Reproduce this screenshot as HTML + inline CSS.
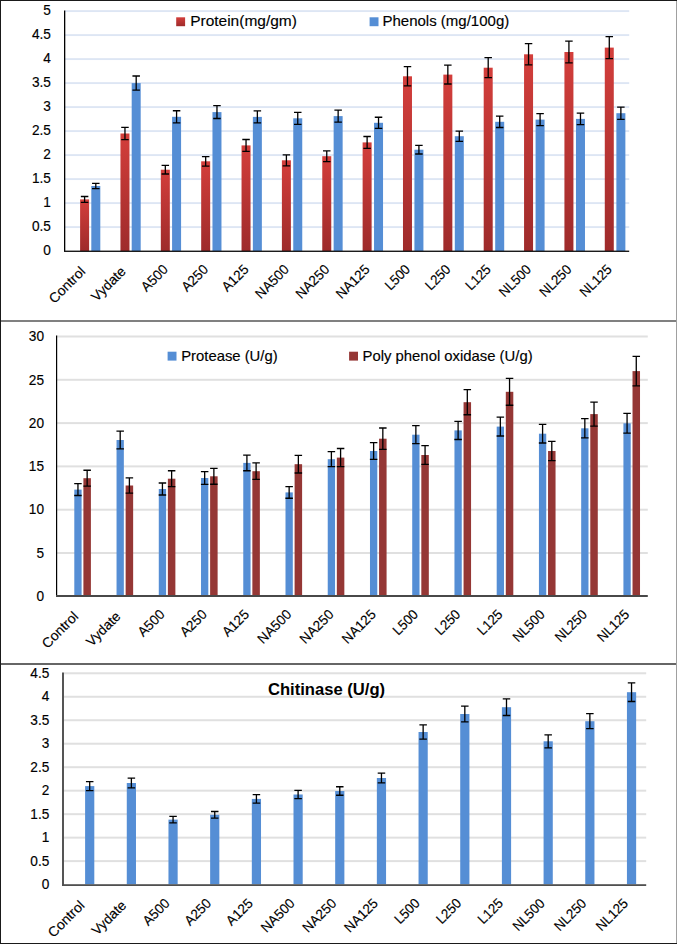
<!DOCTYPE html>
<html><head><meta charset="utf-8"><title>Chart</title>
<style>
html,body{margin:0;padding:0;background:#fff;}
body{width:677px;height:944px;overflow:hidden;position:relative;}
svg{position:absolute;left:0;top:0;display:block;}
svg text{font-family:"Liberation Sans",sans-serif;font-size:13.8px;fill:#000;stroke:#000;stroke-width:0.15px;}
</style></head>
<body>
<svg width="677" height="944" viewBox="0 0 677 944">
<defs>
<linearGradient id="rg" x1="0" y1="0" x2="0" y2="1">
<stop offset="0" stop-color="#d33e3b"/>
<stop offset="1" stop-color="#9e2b2b"/>
</linearGradient>
</defs>
<rect x="0" y="0" width="677" height="944" fill="#fff"/>
<g id="c1">
<rect x="65" y="226.15" width="564.2" height="1.9" fill="#dde6f4"/>
<rect x="65" y="202.15" width="564.2" height="1.9" fill="#dde6f4"/>
<rect x="65" y="178.15" width="564.2" height="1.9" fill="#dde6f4"/>
<rect x="65" y="154.15" width="564.2" height="1.9" fill="#dde6f4"/>
<rect x="65" y="130.15" width="564.2" height="1.9" fill="#dde6f4"/>
<rect x="65" y="106.15" width="564.2" height="1.9" fill="#dde6f4"/>
<rect x="65" y="82.15" width="564.2" height="1.9" fill="#dde6f4"/>
<rect x="65" y="58.15" width="564.2" height="1.9" fill="#dde6f4"/>
<rect x="65" y="34.15" width="564.2" height="1.9" fill="#dde6f4"/>
<rect x="65" y="10.15" width="564.2" height="1.9" fill="#dde6f4"/>
<rect x="80.1" y="199.4" width="9" height="51.6" fill="url(#rg)"/>
<rect x="91.3" y="186" width="9" height="65" fill="#558ed5"/>
<rect x="120.46" y="133.5" width="9" height="117.5" fill="url(#rg)"/>
<rect x="131.69" y="83.1" width="9" height="167.9" fill="#558ed5"/>
<rect x="160.82" y="169.7" width="9" height="81.3" fill="url(#rg)"/>
<rect x="172.08" y="116.8" width="9" height="134.2" fill="#558ed5"/>
<rect x="201.18" y="161.3" width="9" height="89.7" fill="url(#rg)"/>
<rect x="212.47" y="112.1" width="9" height="138.9" fill="#558ed5"/>
<rect x="241.54" y="145.4" width="9" height="105.6" fill="url(#rg)"/>
<rect x="252.86" y="116.9" width="9" height="134.1" fill="#558ed5"/>
<rect x="281.9" y="160.3" width="9" height="90.7" fill="url(#rg)"/>
<rect x="293.25" y="118.3" width="9" height="132.7" fill="#558ed5"/>
<rect x="322.26" y="156.2" width="9" height="94.8" fill="url(#rg)"/>
<rect x="333.64" y="116.1" width="9" height="134.9" fill="#558ed5"/>
<rect x="362.62" y="142.4" width="9" height="108.6" fill="url(#rg)"/>
<rect x="374.03" y="122.8" width="9" height="128.2" fill="#558ed5"/>
<rect x="402.98" y="76.3" width="9" height="174.7" fill="url(#rg)"/>
<rect x="414.42" y="149.7" width="9" height="101.3" fill="#558ed5"/>
<rect x="443.34" y="74.6" width="9" height="176.4" fill="url(#rg)"/>
<rect x="454.81" y="136.2" width="9" height="114.8" fill="#558ed5"/>
<rect x="483.7" y="67.7" width="9" height="183.3" fill="url(#rg)"/>
<rect x="495.2" y="121.8" width="9" height="129.2" fill="#558ed5"/>
<rect x="524.06" y="54.3" width="9" height="196.7" fill="url(#rg)"/>
<rect x="535.59" y="119.6" width="9" height="131.4" fill="#558ed5"/>
<rect x="564.42" y="52" width="9" height="199" fill="url(#rg)"/>
<rect x="575.98" y="118.9" width="9" height="132.1" fill="#558ed5"/>
<rect x="604.78" y="47.6" width="9" height="203.4" fill="url(#rg)"/>
<rect x="616.37" y="113.2" width="9" height="137.8" fill="#558ed5"/>
<path d="M84.6 196.5V202.3M80.85 196.5H88.35M80.85 202.3H88.35" stroke="#000" stroke-width="1.3" fill="none"/>
<path d="M95.8 183.45V188.55M92.05 183.45H99.55M92.05 188.55H99.55" stroke="#000" stroke-width="1.3" fill="none"/>
<path d="M124.96 127.3V139.7M121.21 127.3H128.71M121.21 139.7H128.71" stroke="#000" stroke-width="1.3" fill="none"/>
<path d="M136.19 76V90.2M132.44 76H139.94M132.44 90.2H139.94" stroke="#000" stroke-width="1.3" fill="none"/>
<path d="M165.32 165.4V174M161.57 165.4H169.07M161.57 174H169.07" stroke="#000" stroke-width="1.3" fill="none"/>
<path d="M176.58 110.75V122.85M172.83 110.75H180.33M172.83 122.85H180.33" stroke="#000" stroke-width="1.3" fill="none"/>
<path d="M205.68 156.55V166.05M201.93 156.55H209.43M201.93 166.05H209.43" stroke="#000" stroke-width="1.3" fill="none"/>
<path d="M216.97 105.7V118.5M213.22 105.7H220.72M213.22 118.5H220.72" stroke="#000" stroke-width="1.3" fill="none"/>
<path d="M246.04 139.5V151.3M242.29 139.5H249.79M242.29 151.3H249.79" stroke="#000" stroke-width="1.3" fill="none"/>
<path d="M257.36 110.9V122.9M253.61 110.9H261.11M253.61 122.9H261.11" stroke="#000" stroke-width="1.3" fill="none"/>
<path d="M286.4 154.8V165.8M282.65 154.8H290.15M282.65 165.8H290.15" stroke="#000" stroke-width="1.3" fill="none"/>
<path d="M297.75 112.3V124.3M294 112.3H301.5M294 124.3H301.5" stroke="#000" stroke-width="1.3" fill="none"/>
<path d="M326.76 150.85V161.55M323.01 150.85H330.51M323.01 161.55H330.51" stroke="#000" stroke-width="1.3" fill="none"/>
<path d="M338.14 110.05V122.15M334.39 110.05H341.89M334.39 122.15H341.89" stroke="#000" stroke-width="1.3" fill="none"/>
<path d="M367.12 136.5V148.3M363.37 136.5H370.87M363.37 148.3H370.87" stroke="#000" stroke-width="1.3" fill="none"/>
<path d="M378.53 117.25V128.35M374.78 117.25H382.28M374.78 128.35H382.28" stroke="#000" stroke-width="1.3" fill="none"/>
<path d="M407.48 66.7V85.9M403.73 66.7H411.23M403.73 85.9H411.23" stroke="#000" stroke-width="1.3" fill="none"/>
<path d="M418.92 145.4V154M415.17 145.4H422.67M415.17 154H422.67" stroke="#000" stroke-width="1.3" fill="none"/>
<path d="M447.84 65.2V84M444.09 65.2H451.59M444.09 84H451.59" stroke="#000" stroke-width="1.3" fill="none"/>
<path d="M459.31 131.05V141.35M455.56 131.05H463.06M455.56 141.35H463.06" stroke="#000" stroke-width="1.3" fill="none"/>
<path d="M488.2 57.7V77.7M484.45 57.7H491.95M484.45 77.7H491.95" stroke="#000" stroke-width="1.3" fill="none"/>
<path d="M499.7 116.1V127.5M495.95 116.1H503.45M495.95 127.5H503.45" stroke="#000" stroke-width="1.3" fill="none"/>
<path d="M528.56 43.7V64.9M524.81 43.7H532.31M524.81 64.9H532.31" stroke="#000" stroke-width="1.3" fill="none"/>
<path d="M540.09 113.65V125.55M536.34 113.65H543.84M536.34 125.55H543.84" stroke="#000" stroke-width="1.3" fill="none"/>
<path d="M568.92 41.2V62.8M565.17 41.2H572.67M565.17 62.8H572.67" stroke="#000" stroke-width="1.3" fill="none"/>
<path d="M580.48 113.1V124.7M576.73 113.1H584.23M576.73 124.7H584.23" stroke="#000" stroke-width="1.3" fill="none"/>
<path d="M609.28 36.6V58.6M605.53 36.6H613.03M605.53 58.6H613.03" stroke="#000" stroke-width="1.3" fill="none"/>
<path d="M620.87 107.1V119.3M617.12 107.1H624.62M617.12 119.3H624.62" stroke="#000" stroke-width="1.3" fill="none"/>
<rect x="64" y="10.5" width="1.3" height="241" fill="#000"/>
<rect x="64" y="250.6" width="565.2" height="1.35" fill="#111"/>
<rect x="176.2" y="17.3" width="8.9" height="8.9" fill="url(#rg)"/>
<text x="190.2" y="26.2" style="font-size:15.0px" textLength="106.66" lengthAdjust="spacingAndGlyphs">Protein(mg/gm)</text>
<rect x="369.6" y="17.3" width="8.9" height="8.9" fill="#558ed5"/>
<text x="382.5" y="26.2" style="font-size:15.0px" textLength="126.75" lengthAdjust="spacingAndGlyphs">Phenols (mg/100g)</text>
<text x="50.9" y="255.2" text-anchor="end" textLength="7.6" lengthAdjust="spacingAndGlyphs">0</text>
<text x="50.9" y="231.2" text-anchor="end" textLength="18.99" lengthAdjust="spacingAndGlyphs">0.5</text>
<text x="50.9" y="207.2" text-anchor="end" textLength="7.6" lengthAdjust="spacingAndGlyphs">1</text>
<text x="50.9" y="183.2" text-anchor="end" textLength="18.99" lengthAdjust="spacingAndGlyphs">1.5</text>
<text x="50.9" y="159.2" text-anchor="end" textLength="7.6" lengthAdjust="spacingAndGlyphs">2</text>
<text x="50.9" y="135.2" text-anchor="end" textLength="18.99" lengthAdjust="spacingAndGlyphs">2.5</text>
<text x="50.9" y="111.2" text-anchor="end" textLength="7.6" lengthAdjust="spacingAndGlyphs">3</text>
<text x="50.9" y="87.2" text-anchor="end" textLength="18.99" lengthAdjust="spacingAndGlyphs">3.5</text>
<text x="50.9" y="63.2" text-anchor="end" textLength="7.6" lengthAdjust="spacingAndGlyphs">4</text>
<text x="50.9" y="39.2" text-anchor="end" textLength="18.99" lengthAdjust="spacingAndGlyphs">4.5</text>
<text x="50.9" y="15.2" text-anchor="end" textLength="7.6" lengthAdjust="spacingAndGlyphs">5</text>
<text text-anchor="end" transform="translate(86.28 272.4) rotate(-45)" textLength="45.02" lengthAdjust="spacingAndGlyphs">Control</text>
<text text-anchor="end" transform="translate(126.64 272.4) rotate(-45)" textLength="42.12" lengthAdjust="spacingAndGlyphs">Vydate</text>
<text text-anchor="end" transform="translate(168.8 270.3) rotate(-45)" textLength="31.49" lengthAdjust="spacingAndGlyphs">A500</text>
<text text-anchor="end" transform="translate(209.16 270.3) rotate(-45)" textLength="31.49" lengthAdjust="spacingAndGlyphs">A250</text>
<text text-anchor="end" transform="translate(249.52 270.3) rotate(-45)" textLength="31.49" lengthAdjust="spacingAndGlyphs">A125</text>
<text text-anchor="end" transform="translate(289.88 270.3) rotate(-45)" textLength="41.17" lengthAdjust="spacingAndGlyphs">NA500</text>
<text text-anchor="end" transform="translate(330.24 270.3) rotate(-45)" textLength="41.17" lengthAdjust="spacingAndGlyphs">NA250</text>
<text text-anchor="end" transform="translate(370.6 270.3) rotate(-45)" textLength="41.17" lengthAdjust="spacingAndGlyphs">NA125</text>
<text text-anchor="end" transform="translate(410.96 270.3) rotate(-45)" textLength="29.12" lengthAdjust="spacingAndGlyphs">L500</text>
<text text-anchor="end" transform="translate(451.32 270.3) rotate(-45)" textLength="29.12" lengthAdjust="spacingAndGlyphs">L250</text>
<text text-anchor="end" transform="translate(491.68 270.3) rotate(-45)" textLength="29.12" lengthAdjust="spacingAndGlyphs">L125</text>
<text text-anchor="end" transform="translate(532.04 270.3) rotate(-45)" textLength="38.8" lengthAdjust="spacingAndGlyphs">NL500</text>
<text text-anchor="end" transform="translate(572.4 270.3) rotate(-45)" textLength="38.8" lengthAdjust="spacingAndGlyphs">NL250</text>
<text text-anchor="end" transform="translate(612.76 270.3) rotate(-45)" textLength="38.8" lengthAdjust="spacingAndGlyphs">NL125</text>
</g>
<g id="c2">
<rect x="57" y="552" width="590.8" height="2" fill="#e0e0e0"/>
<rect x="57" y="508.7" width="590.8" height="2" fill="#e0e0e0"/>
<rect x="57" y="465.4" width="590.8" height="2" fill="#e0e0e0"/>
<rect x="57" y="422.1" width="590.8" height="2" fill="#e0e0e0"/>
<rect x="57" y="378.8" width="590.8" height="2" fill="#e0e0e0"/>
<rect x="57" y="335.5" width="590.8" height="2" fill="#e0e0e0"/>
<rect x="74.3" y="489.6" width="7.3" height="106.4" fill="#558ed5"/>
<rect x="83.4" y="478.2" width="7.5" height="117.8" fill="#953735"/>
<rect x="116.54" y="440" width="7.3" height="156" fill="#558ed5"/>
<rect x="125.64" y="485.5" width="7.5" height="110.5" fill="#953735"/>
<rect x="158.78" y="489" width="7.3" height="107" fill="#558ed5"/>
<rect x="167.88" y="478.7" width="7.5" height="117.3" fill="#953735"/>
<rect x="201.02" y="478" width="7.3" height="118" fill="#558ed5"/>
<rect x="210.12" y="476.3" width="7.5" height="119.7" fill="#953735"/>
<rect x="243.26" y="462.9" width="7.3" height="133.1" fill="#558ed5"/>
<rect x="252.36" y="471.2" width="7.5" height="124.8" fill="#953735"/>
<rect x="285.5" y="492.4" width="7.3" height="103.6" fill="#558ed5"/>
<rect x="294.6" y="464.2" width="7.5" height="131.8" fill="#953735"/>
<rect x="327.74" y="459.2" width="7.3" height="136.8" fill="#558ed5"/>
<rect x="336.84" y="457.6" width="7.5" height="138.4" fill="#953735"/>
<rect x="369.98" y="451" width="7.3" height="145" fill="#558ed5"/>
<rect x="379.08" y="438.7" width="7.5" height="157.3" fill="#953735"/>
<rect x="412.22" y="434.7" width="7.3" height="161.3" fill="#558ed5"/>
<rect x="421.32" y="455" width="7.5" height="141" fill="#953735"/>
<rect x="454.46" y="430.4" width="7.3" height="165.6" fill="#558ed5"/>
<rect x="463.56" y="402.2" width="7.5" height="193.8" fill="#953735"/>
<rect x="496.7" y="426.6" width="7.3" height="169.4" fill="#558ed5"/>
<rect x="505.8" y="391.8" width="7.5" height="204.2" fill="#953735"/>
<rect x="538.94" y="433.7" width="7.3" height="162.3" fill="#558ed5"/>
<rect x="548.04" y="451" width="7.5" height="145" fill="#953735"/>
<rect x="581.18" y="428.3" width="7.3" height="167.7" fill="#558ed5"/>
<rect x="590.28" y="414.1" width="7.5" height="181.9" fill="#953735"/>
<rect x="623.42" y="423.3" width="7.3" height="172.7" fill="#558ed5"/>
<rect x="632.52" y="371.1" width="7.5" height="224.9" fill="#953735"/>
<path d="M77.95 483.7V495.5M74.2 483.7H81.7M74.2 495.5H81.7" stroke="#000" stroke-width="1.3" fill="none"/>
<path d="M87.15 470.25V486.15M83.4 470.25H90.9M83.4 486.15H90.9" stroke="#000" stroke-width="1.3" fill="none"/>
<path d="M120.19 431.2V448.8M116.44 431.2H123.94M116.44 448.8H123.94" stroke="#000" stroke-width="1.3" fill="none"/>
<path d="M129.39 477.95V493.05M125.64 477.95H133.14M125.64 493.05H133.14" stroke="#000" stroke-width="1.3" fill="none"/>
<path d="M162.43 483V495M158.68 483H166.18M158.68 495H166.18" stroke="#000" stroke-width="1.3" fill="none"/>
<path d="M171.63 470.75V486.65M167.88 470.75H175.38M167.88 486.65H175.38" stroke="#000" stroke-width="1.3" fill="none"/>
<path d="M204.67 471.55V484.45M200.92 471.55H208.42M200.92 484.45H208.42" stroke="#000" stroke-width="1.3" fill="none"/>
<path d="M213.87 468.35V484.25M210.12 468.35H217.62M210.12 484.25H217.62" stroke="#000" stroke-width="1.3" fill="none"/>
<path d="M246.91 455.05V470.75M243.16 455.05H250.66M243.16 470.75H250.66" stroke="#000" stroke-width="1.3" fill="none"/>
<path d="M256.11 462.95V479.45M252.36 462.95H259.86M252.36 479.45H259.86" stroke="#000" stroke-width="1.3" fill="none"/>
<path d="M289.15 486.55V498.25M285.4 486.55H292.9M285.4 498.25H292.9" stroke="#000" stroke-width="1.3" fill="none"/>
<path d="M298.35 455.4V473M294.6 455.4H302.1M294.6 473H302.1" stroke="#000" stroke-width="1.3" fill="none"/>
<path d="M331.39 451.7V466.7M327.64 451.7H335.14M327.64 466.7H335.14" stroke="#000" stroke-width="1.3" fill="none"/>
<path d="M340.59 448.5V466.7M336.84 448.5H344.34M336.84 466.7H344.34" stroke="#000" stroke-width="1.3" fill="none"/>
<path d="M373.63 442.6V459.4M369.88 442.6H377.38M369.88 459.4H377.38" stroke="#000" stroke-width="1.3" fill="none"/>
<path d="M382.83 428V449.4M379.08 428H386.58M379.08 449.4H386.58" stroke="#000" stroke-width="1.3" fill="none"/>
<path d="M415.87 425.7V443.7M412.12 425.7H419.62M412.12 443.7H419.62" stroke="#000" stroke-width="1.3" fill="none"/>
<path d="M425.07 445.6V464.4M421.32 445.6H428.82M421.32 464.4H428.82" stroke="#000" stroke-width="1.3" fill="none"/>
<path d="M458.11 421.3V439.5M454.36 421.3H461.86M454.36 439.5H461.86" stroke="#000" stroke-width="1.3" fill="none"/>
<path d="M467.31 389.65V414.75M463.56 389.65H471.06M463.56 414.75H471.06" stroke="#000" stroke-width="1.3" fill="none"/>
<path d="M500.35 417.2V436M496.6 417.2H504.1M496.6 436H504.1" stroke="#000" stroke-width="1.3" fill="none"/>
<path d="M509.55 378.35V405.25M505.8 378.35H513.3M505.8 405.25H513.3" stroke="#000" stroke-width="1.3" fill="none"/>
<path d="M542.59 424.4V443M538.84 424.4H546.34M538.84 443H546.34" stroke="#000" stroke-width="1.3" fill="none"/>
<path d="M551.79 441.45V460.55M548.04 441.45H555.54M548.04 460.55H555.54" stroke="#000" stroke-width="1.3" fill="none"/>
<path d="M584.83 418.7V437.9M581.08 418.7H588.58M581.08 437.9H588.58" stroke="#000" stroke-width="1.3" fill="none"/>
<path d="M594.03 402.1V426.1M590.28 402.1H597.78M590.28 426.1H597.78" stroke="#000" stroke-width="1.3" fill="none"/>
<path d="M627.07 413.45V433.15M623.32 413.45H630.82M623.32 433.15H630.82" stroke="#000" stroke-width="1.3" fill="none"/>
<path d="M636.27 356.4V385.8M632.52 356.4H640.02M632.52 385.8H640.02" stroke="#000" stroke-width="1.3" fill="none"/>
<rect x="56" y="335.5" width="1.2" height="261" fill="#000"/>
<rect x="56" y="595" width="591.8" height="2" fill="#484848"/>
<rect x="167.6" y="351.7" width="8.9" height="8.9" fill="#558ed5"/>
<text x="181.2" y="360.8" style="font-size:15.0px" textLength="96.43" lengthAdjust="spacingAndGlyphs">Protease (U/g)</text>
<rect x="349.1" y="351.7" width="8.9" height="8.9" fill="#953735"/>
<text x="362.6" y="360.8" style="font-size:15.0px" textLength="170.01" lengthAdjust="spacingAndGlyphs">Poly phenol oxidase (U/g)</text>
<text x="44" y="601" text-anchor="end" textLength="7.6" lengthAdjust="spacingAndGlyphs">0</text>
<text x="44" y="557.7" text-anchor="end" textLength="7.6" lengthAdjust="spacingAndGlyphs">5</text>
<text x="44" y="514.4" text-anchor="end" textLength="15.21" lengthAdjust="spacingAndGlyphs">10</text>
<text x="44" y="471.1" text-anchor="end" textLength="15.21" lengthAdjust="spacingAndGlyphs">15</text>
<text x="44" y="427.8" text-anchor="end" textLength="15.21" lengthAdjust="spacingAndGlyphs">20</text>
<text x="44" y="384.5" text-anchor="end" textLength="15.21" lengthAdjust="spacingAndGlyphs">25</text>
<text x="44" y="341.2" text-anchor="end" textLength="15.21" lengthAdjust="spacingAndGlyphs">30</text>
<text text-anchor="end" transform="translate(79.22 617.4) rotate(-45)" textLength="45.02" lengthAdjust="spacingAndGlyphs">Control</text>
<text text-anchor="end" transform="translate(121.46 617.4) rotate(-45)" textLength="42.12" lengthAdjust="spacingAndGlyphs">Vydate</text>
<text text-anchor="end" transform="translate(165.5 615.3) rotate(-45)" textLength="31.49" lengthAdjust="spacingAndGlyphs">A500</text>
<text text-anchor="end" transform="translate(207.74 615.3) rotate(-45)" textLength="31.49" lengthAdjust="spacingAndGlyphs">A250</text>
<text text-anchor="end" transform="translate(249.98 615.3) rotate(-45)" textLength="31.49" lengthAdjust="spacingAndGlyphs">A125</text>
<text text-anchor="end" transform="translate(292.22 615.3) rotate(-45)" textLength="41.17" lengthAdjust="spacingAndGlyphs">NA500</text>
<text text-anchor="end" transform="translate(334.46 615.3) rotate(-45)" textLength="41.17" lengthAdjust="spacingAndGlyphs">NA250</text>
<text text-anchor="end" transform="translate(376.7 615.3) rotate(-45)" textLength="41.17" lengthAdjust="spacingAndGlyphs">NA125</text>
<text text-anchor="end" transform="translate(418.94 615.3) rotate(-45)" textLength="29.12" lengthAdjust="spacingAndGlyphs">L500</text>
<text text-anchor="end" transform="translate(461.18 615.3) rotate(-45)" textLength="29.12" lengthAdjust="spacingAndGlyphs">L250</text>
<text text-anchor="end" transform="translate(503.42 615.3) rotate(-45)" textLength="29.12" lengthAdjust="spacingAndGlyphs">L125</text>
<text text-anchor="end" transform="translate(545.66 615.3) rotate(-45)" textLength="38.8" lengthAdjust="spacingAndGlyphs">NL500</text>
<text text-anchor="end" transform="translate(587.9 615.3) rotate(-45)" textLength="38.8" lengthAdjust="spacingAndGlyphs">NL250</text>
<text text-anchor="end" transform="translate(630.14 615.3) rotate(-45)" textLength="38.8" lengthAdjust="spacingAndGlyphs">NL125</text>
</g>
<g id="c3">
<rect x="64" y="860.12" width="582.2" height="2" fill="#e0e0e0"/>
<rect x="64" y="836.64" width="582.2" height="2" fill="#e0e0e0"/>
<rect x="64" y="813.16" width="582.2" height="2" fill="#e0e0e0"/>
<rect x="64" y="789.68" width="582.2" height="2" fill="#e0e0e0"/>
<rect x="64" y="766.2" width="582.2" height="2" fill="#e0e0e0"/>
<rect x="64" y="742.72" width="582.2" height="2" fill="#e0e0e0"/>
<rect x="64" y="719.24" width="582.2" height="2" fill="#e0e0e0"/>
<rect x="64" y="695.76" width="582.2" height="2" fill="#e0e0e0"/>
<rect x="64" y="672.28" width="582.2" height="2" fill="#e0e0e0"/>
<rect x="85.1" y="786.1" width="9.2" height="98.2" fill="#558ed5"/>
<rect x="126.78" y="783" width="9.2" height="101.3" fill="#558ed5"/>
<rect x="168.46" y="819.6" width="9.2" height="64.7" fill="#558ed5"/>
<rect x="210.14" y="814.8" width="9.2" height="69.5" fill="#558ed5"/>
<rect x="251.82" y="798.9" width="9.2" height="85.4" fill="#558ed5"/>
<rect x="293.5" y="794.5" width="9.2" height="89.8" fill="#558ed5"/>
<rect x="335.18" y="791" width="9.2" height="93.3" fill="#558ed5"/>
<rect x="376.86" y="778" width="9.2" height="106.3" fill="#558ed5"/>
<rect x="418.54" y="732" width="9.2" height="152.3" fill="#558ed5"/>
<rect x="460.22" y="714" width="9.2" height="170.3" fill="#558ed5"/>
<rect x="501.9" y="707.2" width="9.2" height="177.1" fill="#558ed5"/>
<rect x="543.58" y="741.3" width="9.2" height="143" fill="#558ed5"/>
<rect x="585.26" y="721.2" width="9.2" height="163.1" fill="#558ed5"/>
<rect x="626.94" y="692.2" width="9.2" height="192.1" fill="#558ed5"/>
<path d="M89.7 781.55V790.65M85.95 781.55H93.45M85.95 790.65H93.45" stroke="#000" stroke-width="1.3" fill="none"/>
<path d="M131.38 778.05V787.95M127.63 778.05H135.13M127.63 787.95H135.13" stroke="#000" stroke-width="1.3" fill="none"/>
<path d="M173.06 816.4V822.8M169.31 816.4H176.81M169.31 822.8H176.81" stroke="#000" stroke-width="1.3" fill="none"/>
<path d="M214.74 811.5V818.1M210.99 811.5H218.49M210.99 818.1H218.49" stroke="#000" stroke-width="1.3" fill="none"/>
<path d="M256.42 794.65V803.15M252.67 794.65H260.17M252.67 803.15H260.17" stroke="#000" stroke-width="1.3" fill="none"/>
<path d="M298.1 790.35V798.65M294.35 790.35H301.85M294.35 798.65H301.85" stroke="#000" stroke-width="1.3" fill="none"/>
<path d="M339.78 786.75V795.25M336.03 786.75H343.53M336.03 795.25H343.53" stroke="#000" stroke-width="1.3" fill="none"/>
<path d="M381.46 773.05V782.95M377.71 773.05H385.21M377.71 782.95H385.21" stroke="#000" stroke-width="1.3" fill="none"/>
<path d="M423.14 724.95V739.05M419.39 724.95H426.89M419.39 739.05H426.89" stroke="#000" stroke-width="1.3" fill="none"/>
<path d="M464.82 706.15V721.85M461.07 706.15H468.57M461.07 721.85H468.57" stroke="#000" stroke-width="1.3" fill="none"/>
<path d="M506.5 698.9V715.5M502.75 698.9H510.25M502.75 715.5H510.25" stroke="#000" stroke-width="1.3" fill="none"/>
<path d="M548.18 734.8V747.8M544.43 734.8H551.93M544.43 747.8H551.93" stroke="#000" stroke-width="1.3" fill="none"/>
<path d="M589.86 713.7V728.7M586.11 713.7H593.61M586.11 728.7H593.61" stroke="#000" stroke-width="1.3" fill="none"/>
<path d="M631.54 682.9V701.5M627.79 682.9H635.29M627.79 701.5H635.29" stroke="#000" stroke-width="1.3" fill="none"/>
<rect x="62" y="672.5" width="2" height="213" fill="#555"/>
<rect x="62" y="884.2" width="584.2" height="1.8" fill="#505050"/>
<text x="268" y="694.5" style="font-size:16.6px;font-weight:bold;stroke-width:0">Chitinase (U/g)</text>
<text x="49.3" y="889.2" text-anchor="end" textLength="7.6" lengthAdjust="spacingAndGlyphs">0</text>
<text x="49.3" y="865.72" text-anchor="end" textLength="18.99" lengthAdjust="spacingAndGlyphs">0.5</text>
<text x="49.3" y="842.24" text-anchor="end" textLength="7.6" lengthAdjust="spacingAndGlyphs">1</text>
<text x="49.3" y="818.76" text-anchor="end" textLength="18.99" lengthAdjust="spacingAndGlyphs">1.5</text>
<text x="49.3" y="795.28" text-anchor="end" textLength="7.6" lengthAdjust="spacingAndGlyphs">2</text>
<text x="49.3" y="771.8" text-anchor="end" textLength="18.99" lengthAdjust="spacingAndGlyphs">2.5</text>
<text x="49.3" y="748.32" text-anchor="end" textLength="7.6" lengthAdjust="spacingAndGlyphs">3</text>
<text x="49.3" y="724.84" text-anchor="end" textLength="18.99" lengthAdjust="spacingAndGlyphs">3.5</text>
<text x="49.3" y="701.36" text-anchor="end" textLength="7.6" lengthAdjust="spacingAndGlyphs">4</text>
<text x="49.3" y="677.88" text-anchor="end" textLength="18.99" lengthAdjust="spacingAndGlyphs">4.5</text>
<text text-anchor="end" transform="translate(85.34 906.3) rotate(-45)" textLength="45.02" lengthAdjust="spacingAndGlyphs">Control</text>
<text text-anchor="end" transform="translate(127.02 906.3) rotate(-45)" textLength="42.12" lengthAdjust="spacingAndGlyphs">Vydate</text>
<text text-anchor="end" transform="translate(170.5 904.2) rotate(-45)" textLength="31.49" lengthAdjust="spacingAndGlyphs">A500</text>
<text text-anchor="end" transform="translate(212.18 904.2) rotate(-45)" textLength="31.49" lengthAdjust="spacingAndGlyphs">A250</text>
<text text-anchor="end" transform="translate(253.86 904.2) rotate(-45)" textLength="31.49" lengthAdjust="spacingAndGlyphs">A125</text>
<text text-anchor="end" transform="translate(295.54 904.2) rotate(-45)" textLength="41.17" lengthAdjust="spacingAndGlyphs">NA500</text>
<text text-anchor="end" transform="translate(337.22 904.2) rotate(-45)" textLength="41.17" lengthAdjust="spacingAndGlyphs">NA250</text>
<text text-anchor="end" transform="translate(378.9 904.2) rotate(-45)" textLength="41.17" lengthAdjust="spacingAndGlyphs">NA125</text>
<text text-anchor="end" transform="translate(420.58 904.2) rotate(-45)" textLength="29.12" lengthAdjust="spacingAndGlyphs">L500</text>
<text text-anchor="end" transform="translate(462.26 904.2) rotate(-45)" textLength="29.12" lengthAdjust="spacingAndGlyphs">L250</text>
<text text-anchor="end" transform="translate(503.94 904.2) rotate(-45)" textLength="29.12" lengthAdjust="spacingAndGlyphs">L125</text>
<text text-anchor="end" transform="translate(545.62 904.2) rotate(-45)" textLength="38.8" lengthAdjust="spacingAndGlyphs">NL500</text>
<text text-anchor="end" transform="translate(587.3 904.2) rotate(-45)" textLength="38.8" lengthAdjust="spacingAndGlyphs">NL250</text>
<text text-anchor="end" transform="translate(628.98 904.2) rotate(-45)" textLength="38.8" lengthAdjust="spacingAndGlyphs">NL125</text>
</g>
<!-- frame -->
<rect x="0" y="320" width="677" height="2" fill="#808080"/>
<rect x="0" y="663" width="677" height="2" fill="#666"/>
<rect x="676" y="0" width="1" height="944" fill="#a0a0a0"/>
<rect x="0" y="0" width="1" height="944" fill="#1a1a1a"/>
<rect x="0" y="0" width="677" height="1" fill="#1a1a1a"/>
<rect x="0" y="943" width="677" height="1" fill="#1a1a1a"/>
</svg>
</body></html>
